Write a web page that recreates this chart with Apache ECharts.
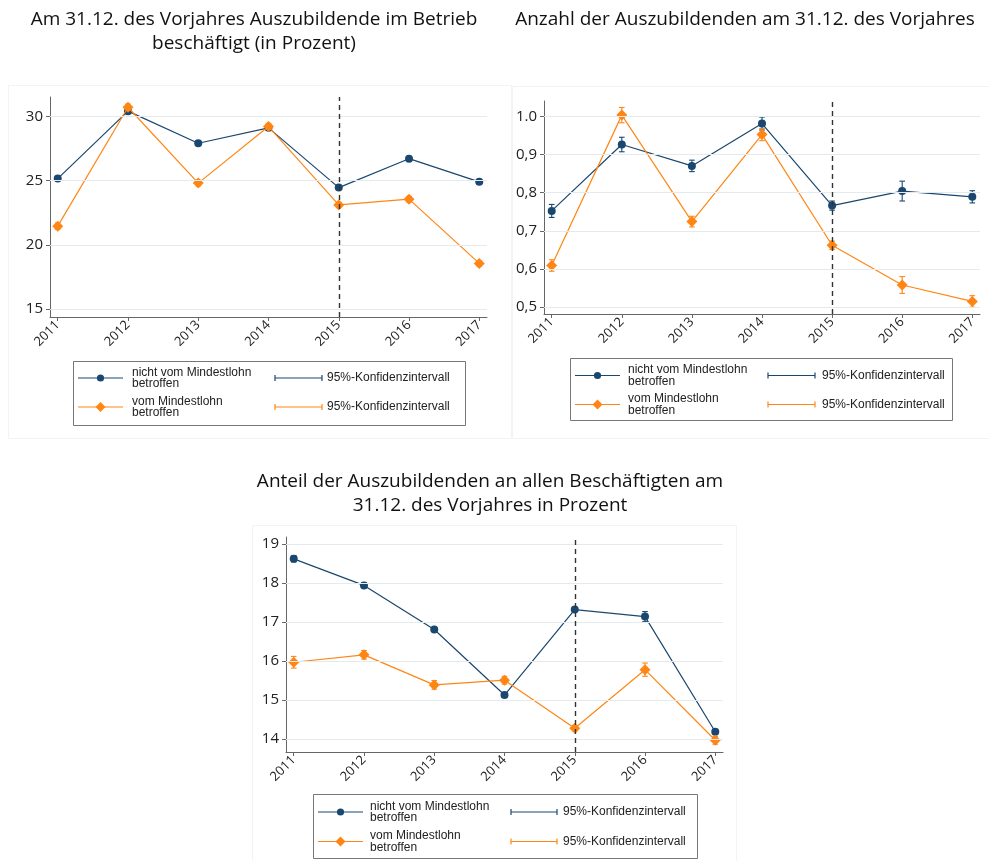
<!DOCTYPE html>
<html>
<head>
<meta charset="utf-8">
<script src="https://cdn.jsdelivr.net/npm/echarts@6/dist/echarts.min.js"></script>
<style>html,body{margin:0;padding:0;background:#fff;}#c{width:989px;height:861px;}</style>
</head>
<body>
<div id="c"></div>
<script>
// ---------- data ----------
const years = [2011, 2012, 2013, 2014, 2015, 2016, 2017];

// Chart 1: Am 31.12. des Vorjahres Auszubildende im Betrieb beschäftigt (in Prozent)
const c1Nicht   = [25.15, 30.4, 27.9, 29.1, 24.45, 26.7, 24.9];
const c1NichtCI = [0.12, 0.12, 0.1, 0.12, 0.1, 0.12, 0.1];
const c1Vom     = [21.45, 30.7, 24.8, 29.2, 23.1, 23.55, 18.55];
const c1VomCI   = [0.25, 0.25, 0.22, 0.25, 0.2, 0.22, 0.2];
const c1Ticks   = [15, 20, 25, 30];
const c1Labels  = ['15', '20', '25', '30'];

// Chart 2: Anzahl der Auszubildenden am 31.12. des Vorjahres
const c2Nicht   = [0.752, 0.926, 0.870, 0.981, 0.766, 0.804, 0.789];
const c2NichtCI = [0.017, 0.019, 0.015, 0.017, 0.012, 0.026, 0.016];
const c2Vom     = [0.609, 1.003, 0.724, 0.952, 0.662, 0.558, 0.515];
const c2VomCI   = [0.015, 0.020, 0.014, 0.016, 0.011, 0.022, 0.015];
const c2Ticks   = [0.5, 0.6, 0.7, 0.8, 0.9, 1.0];
const c2Labels  = ['0,5', '0,6', '0,7', '0,8', '0,9', '1.0'];

// Chart 3: Anteil der Auszubildenden an allen Beschäftigten am 31.12. des Vorjahres in Prozent
const c3Nicht   = [18.62, 17.94, 16.81, 15.13, 17.32, 17.14, 14.19];
const c3NichtCI = [0.08, 0.06, 0.05, 0.06, 0.04, 0.13, 0.06];
const c3Vom     = [15.97, 16.16, 15.39, 15.51, 14.28, 15.78, 13.97];
const c3VomCI   = [0.15, 0.11, 0.11, 0.10, 0.07, 0.17, 0.10];
const c3Ticks   = [14, 15, 16, 17, 18, 19];
const c3Labels  = ['14', '15', '16', '17', '18', '19'];

const reformYear = 2015;

const titles = [
  'Am 31.12. des Vorjahres Auszubildende im Betrieb\nbeschäftigt (in Prozent)',
  'Anzahl der Auszubildenden am 31.12. des Vorjahres',
  'Anteil der Auszubildenden an allen Beschäftigten am\n31.12. des Vorjahres in Prozent'
];
const legendNames = ['nicht vom Mindestlohn\nbetroffen', 'vom Mindestlohn\nbetroffen', '95%-Konfidenzintervall'];

// ---------- styling ----------
const BLUE = '#1a476f';
const ORANGE = '#ff8614';
const TITLE_FONT = '"Open Sans", "Noto Sans", sans-serif';
const LEG_FONT = '"Liberation Sans", Arial, sans-serif';

const panels = [
  {grid: {left: 50, top: 97, width: 437, height: 220}, ymin: 14.38, ymax: 31.5,
   nicht: c1Nicht, nichtCI: c1NichtCI, vom: c1Vom, vomCI: c1VomCI, ticks: c1Ticks, labels: c1Labels},
  {grid: {left: 544, top: 101, width: 436, height: 213}, ymin: 0.482, ymax: 1.04,
   nicht: c2Nicht, nichtCI: c2NichtCI, vom: c2Vom, vomCI: c2VomCI, ticks: c2Ticks, labels: c2Labels},
  {grid: {left: 286, top: 537, width: 437, height: 215}, ymin: 13.67, ymax: 19.18,
   nicht: c3Nicht, nichtCI: c3NichtCI, vom: c3Vom, vomCI: c3VomCI, ticks: c3Ticks, labels: c3Labels}
];

function errRender(params, api) {
  const x = api.value(0), lo = api.value(1), hi = api.value(2);
  const p1 = api.coord([x, lo]), p2 = api.coord([x, hi]);
  const w = 2.8;
  const style = {stroke: api.visual('color'), lineWidth: 1.1, fill: null};
  return {type: 'group', children: [
    {type: 'line', shape: {x1: p1[0], y1: p1[1], x2: p2[0], y2: p2[1]}, style: style},
    {type: 'line', shape: {x1: p1[0] - w, y1: p1[1], x2: p1[0] + w, y2: p1[1]}, style: style},
    {type: 'line', shape: {x1: p2[0] - w, y1: p2[1], x2: p2[0] + w, y2: p2[1]}, style: style}
  ]};
}

const grids = [], xAxes = [], yAxes = [], series = [];
panels.forEach(function (p, i) {
  grids.push(p.grid);
  xAxes.push({
    type: 'value', gridIndex: i, min: 2010.89, max: 2017.11,
    axisLine: {show: true, lineStyle: {color: '#666', width: 1}},
    axisTick: {show: true, length: 4, customValues: years, lineStyle: {color: '#666'}},
    axisLabel: {customValues: years, rotate: 45, margin: 6, fontSize: 13, color: '#222',
                fontFamily: TITLE_FONT, formatter: function (v) { return String(Math.round(v)); }},
    splitLine: {show: false}
  });
  yAxes.push({
    type: 'value', gridIndex: i, min: p.ymin, max: p.ymax,
    axisLine: {show: true, lineStyle: {color: '#666', width: 1}},
    axisTick: {show: true, length: 4, customValues: p.ticks, lineStyle: {color: '#666'}},
    axisLabel: {customValues: p.ticks, margin: 7, fontSize: 15, color: '#222', fontFamily: TITLE_FONT,
                formatter: function (v) {
                  const k = p.ticks.findIndex(function (t) { return Math.abs(t - v) < 1e-6; });
                  return k >= 0 ? p.labels[k] : '';
                }},
    splitLine: {show: false}
  });
  const gridLines = p.ticks.map(function (t) {
    return {yAxis: t, lineStyle: {color: '#e3ebee', width: 1, type: 'solid'}};
  });
  gridLines.push({xAxis: reformYear, lineStyle: {color: '#333', width: 1.4, type: [5, 4]}});
  series.push({
    type: 'custom', xAxisIndex: i, yAxisIndex: i, renderItem: errRender, z: 2,
    itemStyle: {color: BLUE}, encode: {x: 0, y: [1, 2]},
    data: years.map(function (y, k) { return [y, p.nicht[k] - p.nichtCI[k], p.nicht[k] + p.nichtCI[k]]; }),
    markLine: {silent: true, symbol: 'none', label: {show: false}, animation: false, data: gridLines}
  });
  series.push({
    type: 'custom', xAxisIndex: i, yAxisIndex: i, renderItem: errRender, z: 2,
    itemStyle: {color: ORANGE}, encode: {x: 0, y: [1, 2]},
    data: years.map(function (y, k) { return [y, p.vom[k] - p.vomCI[k], p.vom[k] + p.vomCI[k]]; })
  });
  series.push({
    type: 'line', xAxisIndex: i, yAxisIndex: i, z: 3,
    data: years.map(function (y, k) { return [y, p.nicht[k]]; }),
    symbol: 'circle', symbolSize: 8, showAllSymbol: true,
    lineStyle: {color: BLUE, width: 1.2}, itemStyle: {color: BLUE}
  });
  series.push({
    type: 'line', xAxisIndex: i, yAxisIndex: i, z: 4,
    data: years.map(function (y, k) { return [y, p.vom[k]]; }),
    symbol: 'diamond', symbolSize: 11, showAllSymbol: true,
    lineStyle: {color: ORANGE, width: 1.2}, itemStyle: {color: ORANGE}
  });
});

// ---------- graphics: frames, titles, legends ----------
const graphic = [];
[[8, 85, 503, 353], [512, 86, 477, 352], [252, 525, 484, 336]].forEach(function (r) {
  graphic.push({type: 'rect', shape: {x: r[0] + 0.5, y: r[1] + 0.5, width: r[2], height: r[3]},
                style: {fill: null, stroke: '#f1f4f5', lineWidth: 1}, z: 0, silent: true});
});
[[254, 8, titles[0]], [745, 8, titles[1]], [490, 470, titles[2]]].forEach(function (t) {
  graphic.push({type: 'text', x: t[0], y: t[1], z: 10, silent: true,
    style: {text: t[2], fontSize: 19, fontFamily: TITLE_FONT, fill: '#111', align: 'center',
            verticalAlign: 'top', lineHeight: 24}});
});

function addLegend(L) {
  graphic.push({type: 'rect', shape: {x: L.bx + 0.5, y: L.by + 0.5, width: L.bw, height: L.bh},
                style: {fill: '#fff', stroke: '#777', lineWidth: 1}, z: 5, silent: true});
  const rows = [L.r1, L.r2], cols = [BLUE, ORANGE];
  rows.forEach(function (ry, k) {
    graphic.push({type: 'line', z: 6, silent: true,
      shape: {x1: L.lx0, y1: ry, x2: L.lx1, y2: ry}, style: {stroke: cols[k], lineWidth: 1.2}});
    if (k === 0) {
      graphic.push({type: 'circle', z: 7, silent: true, shape: {cx: (L.lx0 + L.lx1) / 2, cy: ry, r: 3.6},
        style: {fill: BLUE}});
    } else {
      const cx = (L.lx0 + L.lx1) / 2, s = 5;
      graphic.push({type: 'polygon', z: 7, silent: true,
        shape: {points: [[cx, ry - s], [cx + s, ry], [cx, ry + s], [cx - s, ry]]}, style: {fill: ORANGE}});
    }
    graphic.push({type: 'text', z: 7, silent: true, x: L.tx, y: ry,
      style: {text: legendNames[k], fontSize: 12, fontFamily: LEG_FONT, fill: '#222',
              verticalAlign: 'middle', lineHeight: 11.5}});
    graphic.push({type: 'line', z: 6, silent: true,
      shape: {x1: L.cx0, y1: ry, x2: L.cx1, y2: ry}, style: {stroke: cols[k], lineWidth: 1.2}});
    graphic.push({type: 'line', z: 6, silent: true,
      shape: {x1: L.cx0, y1: ry - 3, x2: L.cx0, y2: ry + 3}, style: {stroke: cols[k], lineWidth: 1.2}});
    graphic.push({type: 'line', z: 6, silent: true,
      shape: {x1: L.cx1, y1: ry - 3, x2: L.cx1, y2: ry + 3}, style: {stroke: cols[k], lineWidth: 1.2}});
    graphic.push({type: 'text', z: 7, silent: true, x: L.ctx, y: ry,
      style: {text: legendNames[2], fontSize: 12, fontFamily: LEG_FONT, fill: '#222', verticalAlign: 'middle'}});
  });
}
addLegend({bx: 73, by: 361, bw: 392, bh: 64, lx0: 78, lx1: 123, tx: 132, r1: 378, r2: 407, cx0: 275, cx1: 322, ctx: 327});
addLegend({bx: 570, by: 358, bw: 382, bh: 62, lx0: 575, lx1: 620, tx: 628, r1: 375.5, r2: 404.5, cx0: 768, cx1: 815, ctx: 822});
addLegend({bx: 313, by: 794, bw: 384, bh: 64, lx0: 318, lx1: 363, tx: 370, r1: 812, r2: 841.5, cx0: 511, cx1: 557, ctx: 563});

const chart = echarts.init(document.getElementById('c'), null, {renderer: 'canvas'});
chart.setOption({
  animation: false,
  backgroundColor: '#fff',
  grid: grids, xAxis: xAxes, yAxis: yAxes, series: series, graphic: graphic
});
</script>
</body>
</html>
